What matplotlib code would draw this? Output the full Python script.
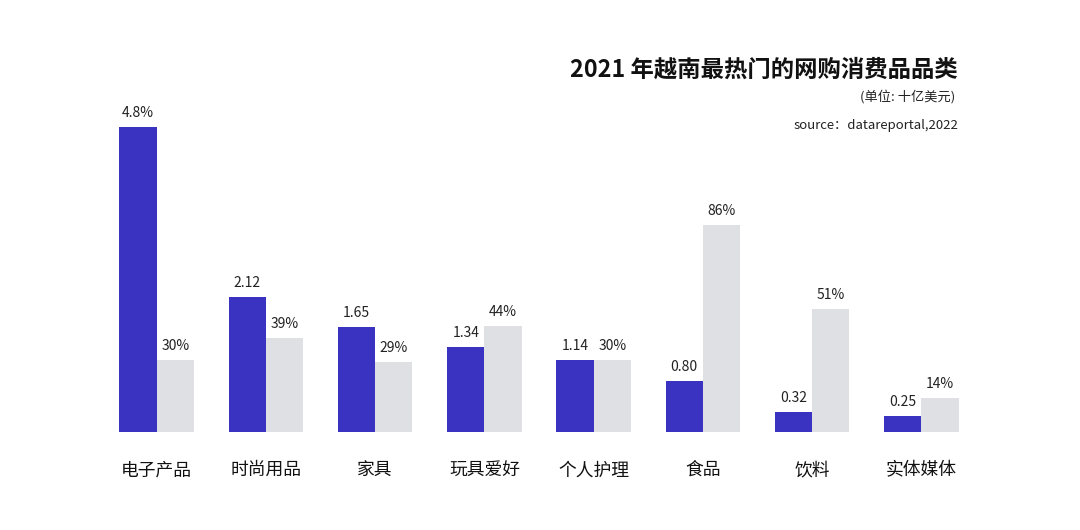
import matplotlib.pyplot as plt
import numpy as np

plt.rcParams['font.family'] = ['Noto Sans CJK SC', 'DejaVu Sans']

# 数据
categories = ["电子产品", "时尚用品", "家具", "玩具爱好", "个人护理", "食品", "饮料", "实体媒体"]
sales = [4.8, 2.12, 1.65, 1.34, 1.14, 0.80, 0.32, 0.25]          # 十亿美元
sales_labels = ["4.8%", "2.12", "1.65", "1.34", "1.14", "0.80", "0.32", "0.25"]
growth = [30, 39, 29, 44, 30, 86, 51, 14]                         # %
growth_labels = ["30%", "39%", "29%", "44%", "30%", "86%", "51%", "14%"]

blue = "#3A33C2"
grey = "#DEE0E3"

fig = plt.figure(figsize=(10.8, 5.3), dpi=100)
ax = fig.add_axes([102 / 1080, 1 - 432 / 530, 874 / 1080, 332 / 530])
ax2 = ax.twinx()

x = np.arange(len(categories))
w = 0.34

b1 = ax.bar(x - w / 2, sales, width=w, color=blue)
b2 = ax2.bar(x + w / 2, growth, width=w, color=grey)

ax.set_xlim(-0.5, len(categories) - 0.5)
ax.set_ylim(0, 332 / 63.5)
ax2.set_ylim(0, 332 / 2.41)

for bar, lab in zip(b1, sales_labels):
    ax.annotate(lab, (bar.get_x() + bar.get_width() / 2, bar.get_height()),
                xytext=(0, 5), textcoords="offset points",
                ha="center", va="bottom", fontsize=10, color="#222222")
for bar, lab in zip(b2, growth_labels):
    ax2.annotate(lab, (bar.get_x() + bar.get_width() / 2, bar.get_height()),
                 xytext=(0, 5), textcoords="offset points",
                 ha="center", va="bottom", fontsize=10, color="#222222")

ax.set_xticks(x)
ax.set_xticklabels(categories, fontsize=12.8, color="#111111")
ax.tick_params(axis="x", length=0, pad=21)
ax.set_yticks([])
ax2.set_yticks([])
for a in (ax, ax2):
    for s in a.spines.values():
        s.set_visible(False)

fig.text(958 / 1080, 1 - 70 / 530, "2021 年越南最热门的网购消费品品类",
         ha="right", va="center", fontsize=16.8, fontweight="heavy", color="#111111")
fig.text(955 / 1080, 1 - 97 / 530, "(单位: 十亿美元)",
         ha="right", va="center", fontsize=9.5, color="#222222")
fig.text(958 / 1080, 1 - 126 / 530, "source：datareportal,2022",
         ha="right", va="center", fontsize=9.5, color="#222222")

fig.savefig("out.png", dpi=100)
